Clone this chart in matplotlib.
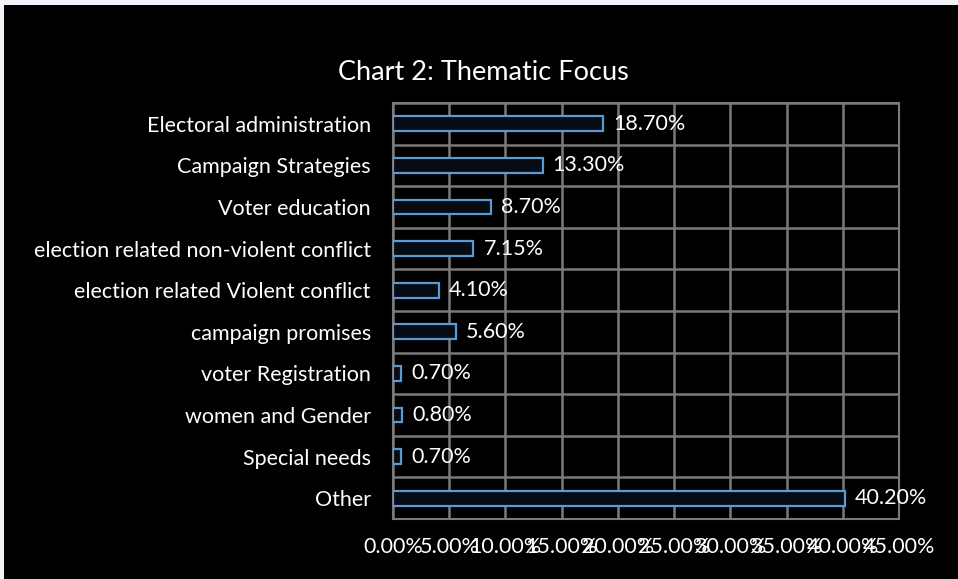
import matplotlib.pyplot as plt
from matplotlib.patches import Rectangle

categories = ['Electoral administration', 'Campaign Strategies', 'Voter education',
              'election related non-violent conflict', 'election related Violent conflict',
              'campaign promises', 'voter Registration', 'women and Gender',
              'Special needs', 'Other']
values = [18.70, 13.30, 8.70, 7.15, 4.10, 5.60, 0.70, 0.80, 0.70, 40.20]
value_labels = ['18.70%', '13.30%', '8.70%', '7.15%', '4.10%', '5.60%',
                '0.70%', '0.80%', '0.70%', '40.20%']
xticks = [0, 5, 10, 15, 20, 25, 30, 35, 40, 45]
xtick_labels = ['%.2f%%' % t for t in xticks]

FONT = ['Lato', 'DejaVu Sans']
WEIGHT = 'normal'
GRID = '#7a7a7a'
FS = 15.5

fig = plt.figure(figsize=(9.58, 5.79), dpi=100)
fig.patch.set_facecolor('#f0f4f8')
# black chart area, with the thin light strip left and top
fig.patches.append(Rectangle((4 / 958, 0), 1, 1 - 5 / 579, transform=fig.transFigure,
                             facecolor='black', edgecolor='none', zorder=-5))

ax = fig.add_axes([393 / 958, 1 - 519 / 579, 506 / 958, 416 / 579])
ax.set_facecolor('black')
ax.set_zorder(2)

y = list(range(len(categories)))
ax.barh(y, values, height=0.36, color='#060b14', edgecolor='#5b9bd5', linewidth=1.6, zorder=3)
for yi, v, lab in zip(y, values, value_labels):
    ax.text(v + 0.9, yi, lab, va='center', ha='left', color='white', fontsize=FS,
            family=FONT, weight=WEIGHT, zorder=4)

ax.set_xlim(0, 45)
ax.set_ylim(len(categories) - 0.5, -0.5)
ax.set_xticks(xticks)
ax.set_xticklabels(xtick_labels)
ax.set_yticks(y)
ax.set_yticklabels(categories)
for lab in ax.get_xticklabels() + ax.get_yticklabels():
    lab.set_family(FONT)
    lab.set_weight(WEIGHT)
    lab.set_color('white')
    lab.set_fontsize(FS)
ax.tick_params(axis='both', length=0)
ax.tick_params(axis='y', pad=16)
ax.tick_params(axis='x', pad=13)

# grid: vertical at ticks, horizontal between categories
for t in xticks:
    ax.axvline(t, color=GRID, linewidth=1.8, zorder=1)
for b in range(len(categories) + 1):
    ax.axhline(b - 0.5, color=GRID, linewidth=1.8, zorder=1)
for s in ax.spines.values():
    s.set_color(GRID)
    s.set_linewidth(1.5)

fig.text(483 / 958, 1 - 72 / 579, 'Chart 2: Thematic Focus', ha='center', va='center',
         color='white', fontsize=19.5, family=FONT, weight=WEIGHT)

fig.savefig('out.png', dpi=100, facecolor=fig.get_facecolor())
